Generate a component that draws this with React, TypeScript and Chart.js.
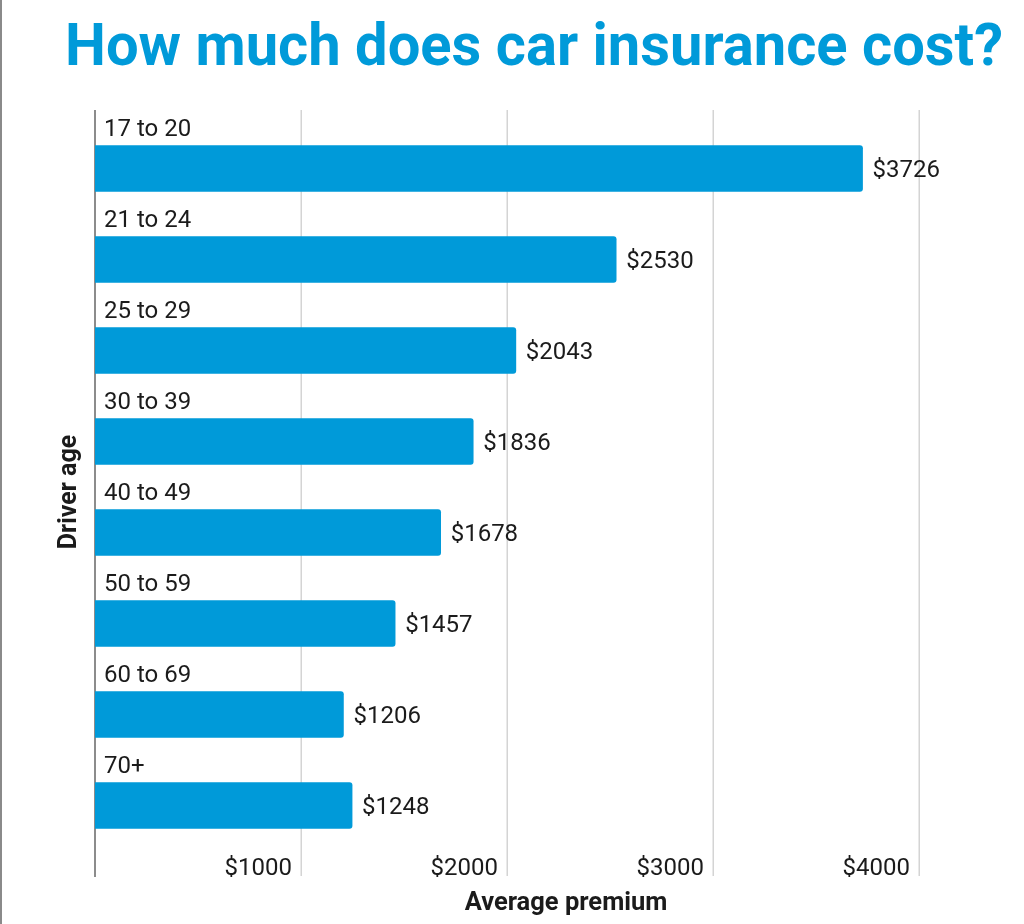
import React, { useEffect, useRef } from 'react';
import { Chart, registerables } from 'chart.js';

Chart.register(...registerables);

const chartTitle = 'How much does car insurance cost?';
const yAxisTitle = 'Driver age';
const xAxisTitle = 'Average premium';
const ageGroups = ['17 to 20', '21 to 24', '25 to 29', '30 to 39', '40 to 49', '50 to 59', '60 to 69', '70+'];
const premiums = [3726, 2530, 2043, 1836, 1678, 1457, 1206, 1248];
const xMin = 0;
const xMax = 4000;
const xStep = 1000;

const BLUE = '#009ad9';
const TEXT = '#1b1b1b';

const decorPlugin = {
  id: 'decor',
  beforeDatasetsDraw(chart: any) {
    const ctx = chart.ctx;
    const xs = chart.scales.x;
    const top = 110;
    ctx.save();
    ctx.strokeStyle = '#8a8a8a';
    ctx.lineWidth = 2;
    ctx.beginPath();
    ctx.moveTo(1, 0);
    ctx.lineTo(1, chart.height);
    ctx.stroke();
    ctx.strokeStyle = '#d4d4d4';
    ctx.lineWidth = 1.5;
    for (let v = xMin + xStep; v <= xMax; v += xStep) {
      const px = Math.round(xs.getPixelForValue(v)) + 0.25;
      ctx.beginPath();
      ctx.moveTo(px, top);
      ctx.lineTo(px, 876);
      ctx.stroke();
    }
    ctx.strokeStyle = '#8c8c8c';
    ctx.lineWidth = 2;
    const x0 = Math.round(xs.getPixelForValue(0));
    ctx.beginPath();
    ctx.moveTo(x0, top);
    ctx.lineTo(x0, 877);
    ctx.stroke();
    ctx.restore();
  },
  afterDatasetsDraw(chart: any) {
    const ctx = chart.ctx;
    const meta = chart.getDatasetMeta(0);
    const x0 = chart.scales.x.getPixelForValue(0);
    ctx.save();
    ctx.fillStyle = TEXT;
    ctx.textBaseline = 'alphabetic';
    ctx.textAlign = 'left';
    meta.data.forEach((bar: any, i: number) => {
      const half = bar.height / 2;
      ctx.font = '24px Roboto';
      ctx.fillText(ageGroups[i], x0 + 9, bar.y - half - 9.5);
      ctx.fillText('$' + premiums[i], bar.x + 10, bar.y + 8.5);
    });
    ctx.fillStyle = BLUE;
    ctx.font = 'bold 59px Roboto';
    ctx.fillText(chartTitle, 65, 65, 938);
    ctx.fillStyle = TEXT;
    ctx.font = 'bold 25.5px Roboto';
    ctx.textAlign = 'center';
    ctx.fillText(xAxisTitle, 566, 910);
    ctx.translate(76, 492);
    ctx.rotate(-Math.PI / 2);
    ctx.font = 'bold 25px Roboto';
    ctx.fillText(yAxisTitle, 0, 0);
    ctx.restore();
  },
};

export default function App() {
  const ref = useRef<HTMLCanvasElement>(null);
  useEffect(() => {
    if (!ref.current) return;
    Chart.defaults.font.family = 'Roboto';
    const chart = new Chart(ref.current, {
      type: 'bar',
      data: {
        labels: ageGroups,
        datasets: [
          {
            data: premiums,
            backgroundColor: BLUE,
            borderRadius: 3,
            barThickness: 46,
          },
        ],
      },
      options: {
        indexAxis: 'y',
        animation: false,
        responsive: false,
        devicePixelRatio: 1,
        layout: { padding: { left: 95, right: 105, top: 123, bottom: 0 } },
        plugins: {
          legend: { display: false },
          tooltip: { enabled: false },
          title: { display: false },
        },
        scales: {
          y: { display: false },
          x: {
            type: 'linear',
            min: xMin,
            max: xMax,
            grid: { display: false },
            border: { display: false },
            ticks: {
              stepSize: xStep,
              align: 'end',
              labelOffset: -9,
              padding: -4,
              color: TEXT,
              font: { size: 24, family: 'Roboto' },
              maxRotation: 0,
              callback: (v: any) => (v === 0 ? '' : '$' + v),
            },
            afterFit: (scale: any) => {
              scale.height = 73;
            },
          },
        },
      },
      plugins: [decorPlugin],
    });
    return () => chart.destroy();
  }, []);
  return (
    <div style={{ position: 'absolute', left: 0, top: 0, width: 1024, height: 924, background: '#fff' }}>
      <canvas ref={ref} width={1024} height={924} />
    </div>
  );
}
